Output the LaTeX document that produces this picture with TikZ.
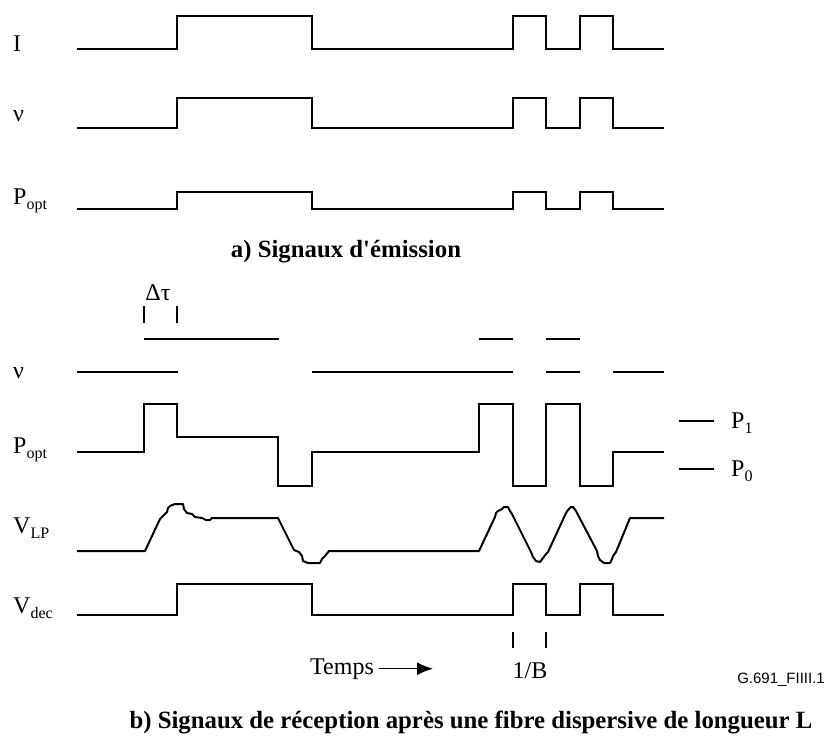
\documentclass[tikz,border=0pt]{standalone}
\usepackage{fontspec}
\setmainfont{Liberation Serif}
\newfontfamily\idfont{Liberation Sans}
\usepackage{tikz}
\usetikzlibrary{arrows.meta}

\newcommand{\lsub}[1]{\raisebox{-5pt}{\fontsize{16}{16}\selectfont #1}}
\newcommand{\bitwave}[2]{%
  \draw[wave] (77,#1) -| (177,#2) -| (312,#1) -| (513,#2) -| (546,#1) -| (580,#2) -| (613,#1) -- (664,#1);}

\begin{document}
\begin{tikzpicture}[x=1pt, y=-1pt,
    wave/.style={line width=2pt},
    tickmark/.style={line width=2pt},
    lbl/.style={anchor=base west, inner sep=0pt, font=\fontsize{24}{28}\selectfont},
    ttl/.style={anchor=base, inner sep=0pt, font=\fontsize{24.8}{29}\selectfont\bfseries}]
    \useasboundingbox (0,0) rectangle (827,738);

    % a) Emission
    \node[lbl] (lblI) at (13,52) {I};
    \node[lbl] (lblnua) at (13,122) {ν};
    \node[lbl] (lblpa) at (13,205) {P\lsub{opt}};
    \bitwave{49}{16}
    \bitwave{128}{98}
    \bitwave{209}{192}
    \node[ttl] (titlea) at (346,258) {a) Signaux d\textquotesingle émission};

    % b) Reception: frequency
    \node[lbl, anchor=base] (dtau) at (158,300) {Δτ};
    \draw[tickmark] (144,306) -- (144,323);
    \draw[tickmark] (177,306) -- (177,323);
    \node[lbl] (lblnub) at (13,378) {ν};
    \draw[wave] (144,339) -- (279,339);
    \draw[wave] (479,339) -- (513,339);
    \draw[wave] (546,339) -- (580,339);
    \draw[wave] (77,372) -- (178,372);
    \draw[wave] (312,372) -- (513,372);
    \draw[wave] (546,372) -- (580,372);
    \draw[wave] (613,372) -- (664,372);

    % Optical power
    \node[lbl] (lblpb) at (13,453) {P\lsub{opt}};
    \draw[wave] (77,452) -| (144,404) -| (177,437) -| (278,486) -| (312,452) -| (479,404)
      -| (513,486) -| (546,404) -| (580,486) -| (613,452) -- (664,452);
    \draw[wave] (679,421) -- (714,421);
    \draw[wave] (679,469) -- (714,469);
    \node[lbl] (lblpone) at (731,428) {P\lsub{1}};
    \node[lbl] (lblpzero) at (731,476) {P\lsub{0}};

    % Low-pass voltage
    \node[lbl] (lblvlp) at (13,533) {V\lsub{LP}};
    \draw[wave, line join=round] (77,551) -- (145,551) -- (160,519) -- (163,516) -- (167,512) -- (168,508)
      -- (170,506) -- (175,504) -- (183,504) -- (184,509) -- (187,513) -- (192,514) -- (195,517)
      -- (202,518) -- (206,520) -- (210,520) -- (212,518) -- (278,518) -- (294,550) -- (299,552)
      -- (302,556) -- (303,561) -- (308,563) -- (320,563) -- (322,559) -- (325,556) -- (329,551)
      -- (479,551) -- (495,517) -- (496,513) -- (498,511) -- (502,509) -- (504,507) -- (508,507)
      -- (510,511) -- (512,514) -- (531,552) -- (533,557) -- (536,561) -- (540,562) -- (543,558)
      -- (546,554) -- (548,552) -- (566,513) -- (568,510) -- (571,507) -- (573,507) -- (576,511)
      -- (577,513) -- (597,551) -- (598,556) -- (600,560) -- (604,563) -- (610,563) -- (612,559)
      -- (613,556) -- (616,552) -- (630,518) -- (664,518);

    % Decided signal
    \node[lbl] (lblvdec) at (13,613) {V\lsub{dec}};
    \bitwave{615}{584}
    \draw[tickmark] (513,632) -- (513,648);
    \draw[tickmark] (546,632) -- (546,648);
    \node[lbl, anchor=base] (invB) at (530,678) {1/B};

    % Time axis
    \node[lbl] (temps) at (310,674) {Temps};
    \coordinate (tend) at (433,667);
    \draw[line width=1.5pt, -{Latex[length=16pt, width=13pt]}] ([xshift=5pt]temps.east) -- (temps.east -| tend);

    \node[anchor=base east, inner sep=0pt, font=\fontsize{15}{18}\selectfont\idfont] (figid) at (825,683) {G.691\_FIIII.1};
    \node[ttl] (titleb) at (471,728) {b) Signaux de réception après une fibre dispersive de longueur L};
\end{tikzpicture}
\end{document}
